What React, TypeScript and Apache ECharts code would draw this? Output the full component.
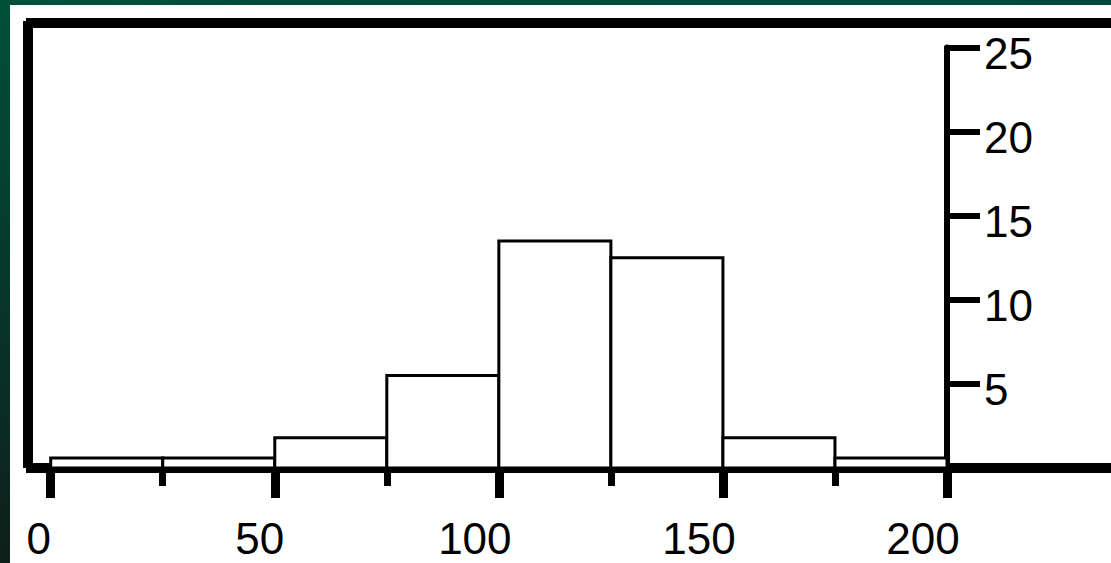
import React, { useEffect, useRef } from "react";
import * as echarts from "echarts";

const binStarts = [0, 25, 50, 75, 100, 125, 150, 175];
const binWidth = 25;
const binValues = [0.6, 0.6, 1.8, 5.5, 13.5, 12.5, 1.8, 0.6];
const xTicks = { min: 0, max: 200, interval: 50 };
const yTicks = { min: 0, max: 25, interval: 5 };

const FONT = "'Liberation Sans', Arial, sans-serif";

export default function App() {
  const ref = useRef<HTMLDivElement>(null);
  useEffect(() => {
    if (!ref.current) return;
    const chart = echarts.init(ref.current, null, { renderer: "svg" });
    const data = binStarts.map((s, i) => [s, s + binWidth, binValues[i]]);
    const lab = { fontSize: 44, fontFamily: FONT, color: "#000", lineHeight: 36 };
    chart.setOption({
      animation: false,
      backgroundColor: "#ffffff",
      grid: { left: 50.7, right: 164, top: 47.5, bottom: 95, containLabel: false },
      xAxis: {
        type: "value",
        min: xTicks.min,
        max: xTicks.max,
        interval: xTicks.interval,
        splitLine: { show: false },
        axisLine: { show: true, onZero: false, lineStyle: { color: "#000", width: 10, cap: "butt" } },
        axisTick: { show: true, length: 30, lineStyle: { color: "#000", width: 9 } },
        minorTick: { show: true, splitNumber: 2, length: 18, lineStyle: { color: "#000", width: 7 } },
        minorSplitLine: { show: false },
        axisLabel: {
          margin: 52,
          ...lab,
          showMinLabel: true,
          showMaxLabel: true,
          formatter: (v: number) => `{s${String(v).length}|${v}}`,
          rich: {
            s1: { ...lab, padding: [0, 24, 0, 0] },
            s2: { ...lab, padding: [0, 30, 0, 0] },
            s3: { ...lab, padding: [0, 48, 0, 0] },
          },
        },
      },
      yAxis: {
        type: "value",
        position: "right",
        min: yTicks.min,
        max: yTicks.max,
        interval: yTicks.interval,
        splitLine: { show: false },
        axisLine: { show: true, onZero: false, lineStyle: { color: "#000", width: 6 } },
        axisTick: { show: true, length: 33, lineStyle: { color: "#000", width: 6 } },
        axisLabel: {
          margin: 37,
          ...lab,
          showMinLabel: false,
          formatter: (v: number) => `{a|${v}}`,
          rich: { a: { ...lab, padding: [12, 0, 0, 0] } },
        },
      },
      series: [
        {
          type: "custom",
          data,
          encode: { x: [0, 1], y: 2 },
          renderItem: (params: any, api: any) => {
            const p0 = api.coord([api.value(0), api.value(2)]);
            const p1 = api.coord([api.value(1), 0]);
            return {
              type: "rect",
              shape: { x: p0[0], y: p0[1], width: p1[0] - p0[0], height: p1[1] - p0[1] },
              style: { fill: "#ffffff", stroke: "#000", lineWidth: 3 },
            };
          },
          z: 1,
        },
      ],
      graphic: [
        {
          type: "rect",
          shape: { x: 0, y: 0, width: 10, height: 563 },
          style: {
            fill: new echarts.graphic.LinearGradient(0, 0, 0, 1, [
              { offset: 0, color: "#00503a" },
              { offset: 1, color: "#0e1f1a" },
            ]),
          },
          silent: true,
        },
        {
          type: "rect",
          shape: { x: 0, y: 0, width: 1111, height: 5 },
          style: {
            fill: new echarts.graphic.LinearGradient(0, 0, 1, 0, [
              { offset: 0, color: "#00503a" },
              { offset: 1, color: "#004a3d" },
            ]),
          },
          silent: true,
        },
        { type: "rect", shape: { x: 26, y: 18, width: 1085, height: 10 }, style: { fill: "#000" }, silent: true },
        { type: "rect", shape: { x: 23, y: 21, width: 10, height: 447 }, style: { fill: "#000" }, silent: true },
        { type: "rect", shape: { x: 26, y: 463, width: 26, height: 10 }, style: { fill: "#000" }, silent: true },
        { type: "rect", shape: { x: 946, y: 463, width: 165, height: 10 }, style: { fill: "#000" }, silent: true },
      ],
    });
    return () => chart.dispose();
  }, []);
  return (
    <div
      ref={ref}
      style={{ position: "fixed", left: 0, top: 0, width: 1111, height: 563 }}
    />
  );
}
